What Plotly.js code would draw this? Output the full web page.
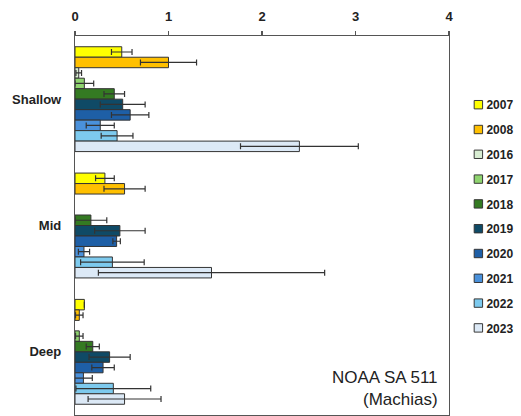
<!DOCTYPE html>
<html><head><meta charset="utf-8">
<script src="https://cdn.plot.ly/plotly-3.0.1.min.js"></script>
<style>html,body{margin:0;padding:0;background:#fff;}#chart{width:521px;height:416px;}</style>
</head><body><div id="chart"></div>
<script>
const categories = ["Shallow", "Mid", "Deep"];
const years = ["2007", "2008", "2016", "2017", "2018", "2019", "2020", "2021", "2022", "2023"];
const colors = ["#FFFF00", "#FFC000", "#D8EDD2", "#8FD46F", "#347A22", "#0F4A66", "#1E5FA6", "#4A91DB", "#7DCAEE", "#DCE9F6"];
// values per year: [Shallow, Mid, Deep]
const v2007 = [0.50, 0.32, 0.10];
const v2008 = [1.00, 0.53, 0.046];
const v2016 = [0.04, null, null];
const v2017 = [0.10, null, 0.046];
const v2018 = [0.42, 0.17, 0.19];
const v2019 = [0.51, 0.48, 0.37];
const v2020 = [0.59, 0.445, 0.30];
const v2021 = [0.27, 0.096, 0.09];
const v2022 = [0.45, 0.40, 0.41];
const v2023 = [2.40, 1.46, 0.53];
// errors (± half-width)
const e2007 = [0.11, 0.10, null];
const e2008 = [0.30, 0.22, 0.04];
const e2016 = [0.03, null, null];
const e2017 = [0.10, null, 0.04];
const e2018 = [0.11, 0.17, 0.07];
const e2019 = [0.24, 0.27, 0.22];
const e2020 = [0.20, 0.04, 0.12];
const e2021 = [0.15, 0.06, 0.095];
const e2022 = [0.17, 0.34, 0.40];
const e2023 = [0.63, 1.21, 0.39];

const values = [v2007, v2008, v2016, v2017, v2018, v2019, v2020, v2021, v2022, v2023];
const errors = [e2007, e2008, e2016, e2017, e2018, e2019, e2020, e2021, e2022, e2023];

const traces = years.map((yr, i) => ({
  type: "bar",
  orientation: "h",
  name: yr,
  legendgroup: yr,
  y: categories,
  x: values[i],
  marker: {color: colors[i], line: {color: "#333333", width: 1}},
  error_x: {type: "data", array: errors[i], visible: true, color: "#333333", thickness: 1.2, width: 3}
}));

const layout = {
  width: 521, height: 416,
  margin: {l: 75, r: 72, t: 36, b: 1, pad: 0},
  paper_bgcolor: "#ffffff", plot_bgcolor: "#ffffff",
  barmode: "group", bargap: 0.17, bargroupgap: 0,
  showlegend: true,
  legend: {x: 0.993, xanchor: "left", y: 0.857, yanchor: "top", traceorder: "grouped",
    tracegroupgap: 5.8, bgcolor: "rgba(0,0,0,0)",
    font: {family: "Liberation Sans, Arial, sans-serif", size: 12, color: "#222", weight: "bold"}},
  xaxis: {side: "top", range: [0, 4], dtick: 1, tick0: 0, showgrid: false, zeroline: false,
    showline: true, linecolor: "#555", linewidth: 1.2, mirror: true,
    ticks: "outside", ticklen: 4, tickcolor: "#555", tickwidth: 1.2, ticklabelstandoff: 5,
    tickfont: {family: "Liberation Sans, Arial, sans-serif", size: 13, color: "#222", weight: "bold"}},
  yaxis: {type: "category", autorange: "reversed", showgrid: false, zeroline: false,
    showline: true, linecolor: "#555", linewidth: 1.2, mirror: true, ticks: "", ticklabelstandoff: 10,
    tickfont: {family: "Liberation Sans, Arial, sans-serif", size: 13, color: "#222", weight: "bold"}},
  annotations: [
    {xref: "paper", yref: "paper", x: 0.975, y: 0.10, xanchor: "right", yanchor: "middle", showarrow: false,
     align: "right", text: "NOAA SA 511", font: {family: "Liberation Sans, Arial, sans-serif", size: 17, color: "#222"}},
    {xref: "paper", yref: "paper", x: 0.975, y: 0.04, xanchor: "right", yanchor: "middle", showarrow: false,
     align: "right", text: "(Machias)", font: {family: "Liberation Sans, Arial, sans-serif", size: 17, color: "#222"}}
  ]
};

Plotly.newPlot("chart", traces, layout, {displayModeBar: false, staticPlot: true}).then(gd => {
  gd.querySelectorAll(".legend .legendpoints path").forEach(p => {
    p.setAttribute("transform", "translate(32,0) scale(0.7)");
    p.style.strokeWidth = "1.4px";
  });
});
</script>
</body></html>
